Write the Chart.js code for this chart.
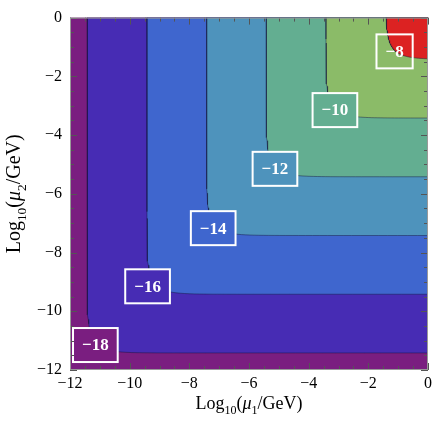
<!DOCTYPE html>
<html><head><meta charset="utf-8">
<script src="https://cdn.jsdelivr.net/npm/chart.js@4/dist/chart.umd.min.js"></script>
<style>html,body{margin:0;padding:0;background:#fff}#wrap{width:436px;height:430px;position:relative}</style>
</head><body><div id="wrap"><canvas id="c"></canvas></div>
<script>
// ---- data ----
const contourLevels = [-8, -10, -12, -14, -16, -18];
// log10(mu/GeV) where each contour's straight edge sits (same on both axes)
const contourEdge = [-1.42, -3.42, -5.42, -7.42, -9.42, -11.42];
const labelX = [-1.12, -3.12, -5.13, -7.2, -9.4, -11.15];
const labelY = [-1.15, -3.15, -5.15, -7.17, -9.15, -11.15];
const axisTicks = [-12, -10, -8, -6, -4, -2, 0];

// ---- styles ----
const regionColors = ['#dc2222', '#8bbb68', '#63ae91', '#4e93bc', '#3f66ce', '#472cb4'];
const baseColor = '#7a1e80';
const lineColor = 'rgba(20,20,60,0.45)';
const SERIF = "'Liberation Serif','Times New Roman',serif";

// closed outline of the region above a contour of the smooth minimum
// 10^{-(x-c)} + 10^{-(y-c)} = 1, closed along the top-right plot edges
function contourPath(c) {
  const d = Math.log10(2), span = -c, n = 40, pts = [{x: c, y: 0}];
  for (let i = n; i >= 0; i--) {
    const v = d + (span - d) * Math.pow(i / n, 2);
    const u = -Math.log10(1 - Math.pow(10, -v));
    pts.push({x: c + u, y: c + v});
  }
  for (let i = 1; i <= n; i++) {
    const u = d + (span - d) * Math.pow(i / n, 2);
    const v = -Math.log10(1 - Math.pow(10, -u));
    pts.push({x: c + u, y: c + v});
  }
  pts.push({x: 0, y: c});
  pts.push({x: 0, y: 0});
  pts.push({x: c, y: 0});
  return pts;
}

const datasets = contourLevels.map((lv, i) => ({
  label: String(lv),
  data: contourPath(contourEdge[i]),
  backgroundColor: regionColors[i],
  borderColor: lineColor,
  borderWidth: 1,
  pointRadius: 0,
  fill: 'shape',
  clip: 0,
  order: i
}));

const fmt = v => (v < 0 ? '\u2212' + Math.abs(v) : String(v));

const basePlugin = {
  id: 'base',
  beforeDatasetsDraw(chart) {
    const {ctx, chartArea: a} = chart;
    ctx.save();
    ctx.fillStyle = baseColor;
    ctx.fillRect(a.left, a.top, a.right - a.left, a.bottom - a.top);
    ctx.restore();
  }
};

const labelPlugin = {
  id: 'labels',
  afterDatasetsDraw(chart) {
    const {ctx, scales: {x, y}} = chart;
    ctx.save();
    ctx.font = 'bold 17px ' + SERIF;
    ctx.textAlign = 'center';
    ctx.textBaseline = 'middle';
    contourLevels.forEach((lv, i) => {
      const px = x.getPixelForValue(labelX[i]);
      const py = y.getPixelForValue(labelY[i]);
      const txt = fmt(lv);
      const w = ctx.measureText(txt).width + 18, h = 34;
      if (i > 0) {
        ctx.fillStyle = i + 1 < regionColors.length ? regionColors[i + 1] : baseColor;
        ctx.fillRect(px - w / 2, py - h / 2, w, h);
      }
      ctx.strokeStyle = '#fff';
      ctx.lineWidth = 2;
      ctx.strokeRect(px - w / 2, py - h / 2, w, h);
      ctx.fillStyle = '#fff';
      ctx.fillText(txt, px, py + 1);
    });
    ctx.restore();
  }
};

const framePlugin = {
  id: 'frame',
  afterDraw(chart) {
    const {ctx, chartArea: a, scales: {x, y}} = chart;
    ctx.save();
    ctx.strokeStyle = '#555';
    ctx.lineWidth = 1;
    ctx.beginPath();
    for (let v = -12; v <= 0.001; v += 0.5) {
      const major = Math.abs(v / 2 - Math.round(v / 2)) < 1e-6;
      const L = major ? 7 : 4;
      const px = Math.round(x.getPixelForValue(v)) + 0.5;
      const py = Math.round(y.getPixelForValue(v)) + 0.5;
      ctx.moveTo(px, a.bottom); ctx.lineTo(px, a.bottom - L);
      ctx.moveTo(px, a.top); ctx.lineTo(px, a.top + L);
      ctx.moveTo(a.left, py); ctx.lineTo(a.left + L, py);
      ctx.moveTo(a.right, py); ctx.lineTo(a.right - L, py);
    }
    ctx.stroke();
    ctx.strokeStyle = '#999';
    ctx.strokeRect(a.left + 0.5, a.top + 0.5, a.right - a.left - 1, a.bottom - a.top - 1);
    // axis titles
    const drawRich = (parts, cx, cy, rot) => {
      ctx.save();
      ctx.translate(cx, cy);
      if (rot) ctx.rotate(rot);
      let total = 0;
      parts.forEach(p => { ctx.font = (p.it ? 'italic ' : '') + p.s + 'px ' + SERIF; p.w = ctx.measureText(p.t).width; total += p.w; });
      let cur = -total / 2;
      ctx.fillStyle = '#000';
      ctx.textBaseline = 'alphabetic';
      ctx.textAlign = 'left';
      parts.forEach(p => { ctx.font = (p.it ? 'italic ' : '') + p.s + 'px ' + SERIF; ctx.fillText(p.t, cur, p.dy || 0); cur += p.w; });
      ctx.restore();
    };
    const title = (sub, s) => [
      {t: 'Log', s}, {t: '10', s: s * 0.67, dy: s * 0.28}, {t: '(', s},
      {t: '\u03bc', s, it: true}, {t: sub, s: s * 0.67, dy: s * 0.28}, {t: '/GeV)', s}
    ];
    drawRich(title('1', 18), (a.left + a.right) / 2, 409, 0);
    drawRich(title('2', 20), 20, (a.top + a.bottom) / 2, -Math.PI / 2);
    ctx.restore();
  }
};

new Chart(document.getElementById('c'), {
  type: 'line',
  data: {datasets},
  options: {
    responsive: true,
    maintainAspectRatio: false,
    animation: false,
    events: [],
    layout: {padding: {left: 0, right: 7, top: 10, bottom: 0}},
    plugins: {legend: {display: false}, tooltip: {enabled: false}, title: {display: false}},
    scales: {
      x: {
        type: 'linear', min: -12, max: 0,
        afterBuildTicks: s => { s.ticks = axisTicks.map(v => ({value: v})); },
        afterFit: s => { s.height = 60; },
        grid: {display: false, drawTicks: false}, border: {display: false},
        ticks: {callback: fmt, color: '#000', font: {family: SERIF, size: 16}, padding: 4, maxRotation: 0, autoSkip: false}
      },
      y: {
        type: 'linear', min: -12, max: 0,
        afterBuildTicks: s => { s.ticks = axisTicks.map(v => ({value: v})); },
        afterFit: s => { s.width = 70; },
        grid: {display: false, drawTicks: false}, border: {display: false},
        ticks: {callback: fmt, color: '#000', font: {family: SERIF, size: 16}, padding: 8, autoSkip: false}
      }
    }
  },
  plugins: [basePlugin, labelPlugin, framePlugin]
});
</script></body></html>
